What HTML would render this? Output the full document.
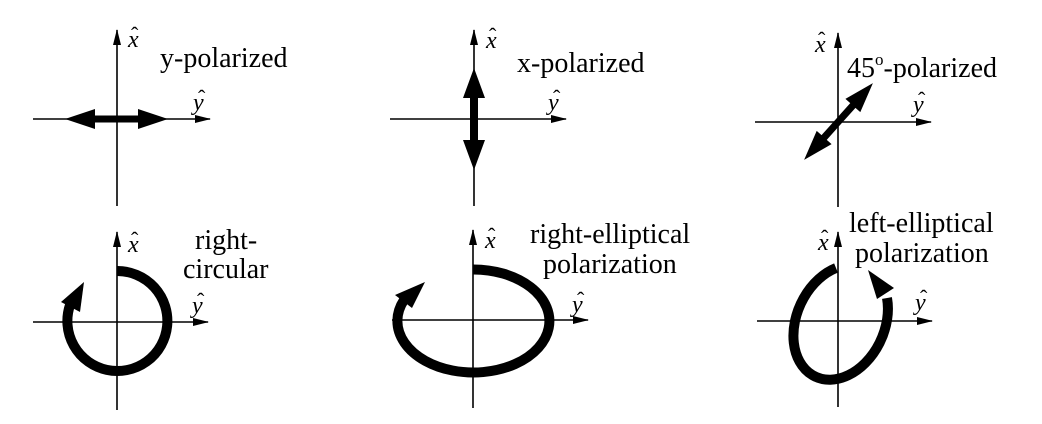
<!DOCTYPE html>
<html><head><meta charset="utf-8"><style>
html,body{margin:0;padding:0;background:#fff;}
svg{display:block;}
text{font-family:"Liberation Serif",serif;fill:#000;}
.lbl{font-size:28px;}
.hat{font-size:24px;font-style:italic;}
.h{font-size:22px;font-style:normal;}
</style></head><body>
<svg width="1042" height="424" viewBox="0 0 1042 424" xmlns="http://www.w3.org/2000/svg">
<defs>
<marker id="ah" markerWidth="16" markerHeight="10" refX="15" refY="5" orient="auto" markerUnits="userSpaceOnUse">
<path d="M0,1 L16,5 L0,9 Z" fill="#000"/>
</marker>
</defs>
<g stroke="#000" stroke-width="1.6" fill="none">
<line x1="117" y1="206" x2="117" y2="30" marker-end="url(#ah)"/>
<line x1="33" y1="119" x2="210" y2="119" marker-end="url(#ah)"/>
<line x1="474" y1="206" x2="474" y2="30" marker-end="url(#ah)"/>
<line x1="390" y1="119" x2="566" y2="119" marker-end="url(#ah)"/>
<line x1="838" y1="207" x2="838" y2="33" marker-end="url(#ah)"/>
<line x1="755" y1="122" x2="931" y2="122" marker-end="url(#ah)"/>
<line x1="117" y1="410" x2="117" y2="232" marker-end="url(#ah)"/>
<line x1="33" y1="322" x2="208" y2="322" marker-end="url(#ah)"/>
<line x1="473" y1="408" x2="473" y2="230" marker-end="url(#ah)"/>
<line x1="392" y1="320" x2="588" y2="320" marker-end="url(#ah)"/>
<line x1="838" y1="407" x2="838" y2="232" marker-end="url(#ah)"/>
<line x1="757" y1="321" x2="932" y2="321" marker-end="url(#ah)"/>
</g>
<g fill="#000">
<polygon transform="translate(116.5,119)" points="-51.5,0 -21.5,-10 -21.5,-3.5 21.5,-3.5 21.5,-10 51.5,0 21.5,10 21.5,3.5 -21.5,3.5 -21.5,10"/>
<polygon transform="translate(474,119) rotate(90)" points="-51,0 -21,-11 -21,-4 21,-4 21,-11 51,0 21,11 21,4 -21,4 -21,11"/>
<polygon transform="translate(838.5,121.5) rotate(-48.1)" points="-51.5,0 -21.5,-10 -21.5,-3.5 21.5,-3.5 21.5,-10 51.5,0 21.5,10 21.5,3.5 -21.5,3.5 -21.5,10"/>
</g>
<g stroke="#000" stroke-width="10" fill="none">
<path d="M117,271 A50,50 0 1 1 70,305"/>
<path d="M473,269.5 A76,51.5 0 1 1 404,300"/>
<path d="M836,268 A44,60 25 1 0 887,298"/>
</g>
<g fill="#000">
<polygon points="84,282 61,302 80,312"/>
<polygon points="425,282 395,295 412,308"/>
<polygon points="868,270 877,299 894,288"/>
</g>
<text class="lbl" x="160" y="67">y-polarized</text>
<text class="lbl" x="517" y="72">x-polarized</text>
<text class="lbl" x="847" y="77">45<tspan font-size="17" dy="-12">o</tspan><tspan dy="12">-polarized</tspan></text>
<text class="lbl" x="195" y="249">right-</text>
<text class="lbl" x="183" y="278">circular</text>
<text class="lbl" x="530" y="243">right-elliptical</text>
<text class="lbl" x="543" y="273">polarization</text>
<text class="lbl" x="849" y="232">left-elliptical</text>
<text class="lbl" x="855" y="262">polarization</text>
<g>
<text class="hat" x="128" y="47">x</text><text class="h" x="131" y="42">ˆ</text>
<text class="hat" x="193" y="110">y</text><text class="h" x="198" y="105">ˆ</text>
<text class="hat" x="486" y="48">x</text><text class="h" x="489" y="43">ˆ</text>
<text class="hat" x="548" y="110">y</text><text class="h" x="553" y="105">ˆ</text>
<text class="hat" x="815" y="52">x</text><text class="h" x="818" y="47">ˆ</text>
<text class="hat" x="913" y="112">y</text><text class="h" x="918" y="107">ˆ</text>
<text class="hat" x="128" y="252">x</text><text class="h" x="131" y="247">ˆ</text>
<text class="hat" x="192" y="313">y</text><text class="h" x="197" y="308">ˆ</text>
<text class="hat" x="485" y="248">x</text><text class="h" x="488" y="243">ˆ</text>
<text class="hat" x="572" y="312">y</text><text class="h" x="577" y="307">ˆ</text>
<text class="hat" x="818" y="250">x</text><text class="h" x="821" y="245">ˆ</text>
<text class="hat" x="915" y="310">y</text><text class="h" x="920" y="305">ˆ</text>
</g>
</svg>
</body></html>
